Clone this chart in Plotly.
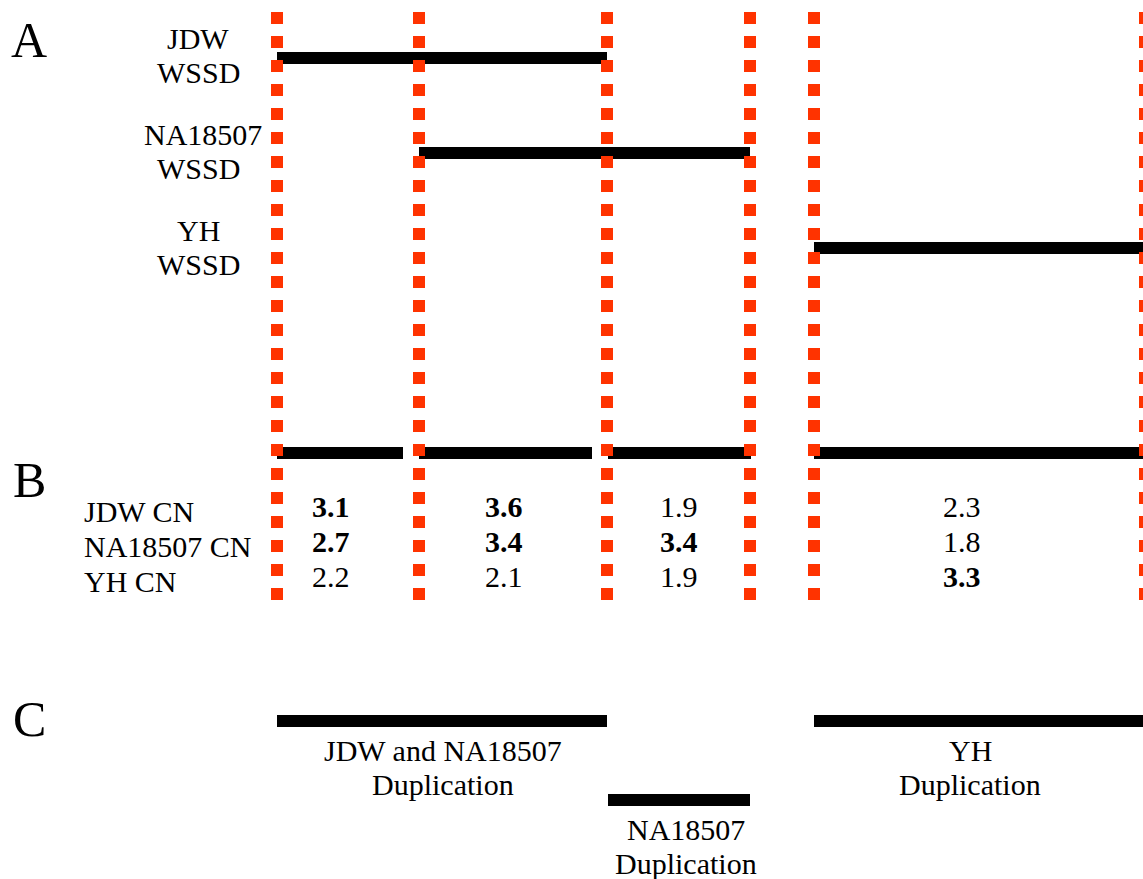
import plotly.graph_objects as go

# ---------------- data ----------------
# breakpoint coordinates (diagram units along the region)
breakpoints = [277, 419, 607, 750, 814, 1145]

# Panel A: WSSD calls
wssd_samples = ["JDW", "NA18507", "YH"]
wssd_start = [277, 419, 814]
wssd_end = [607, 750, 1143]

# Panel B: segments and copy numbers
seg_start = [277, 419, 608, 814]
seg_end = [403, 592, 751, 1143]
cn_labels = ["JDW CN", "NA18507 CN", "YH CN"]
cn_jdw = [3.1, 3.6, 1.9, 2.3]
cn_na18507 = [2.7, 3.4, 3.4, 1.8]
cn_yh = [2.2, 2.1, 1.9, 3.3]
seg_label_x = [331, 504, 679, 962]

# Panel C: duplication calls
dup_names = ["JDW and NA18507", "NA18507", "YH"]
dup_start = [277, 608, 814]
dup_end = [607, 750, 1143]
dup_level = [0, 1, 0]

# ---------------- layout constants ----------------
W, H = 1143, 879
FONT = "Liberation Serif, Times New Roman, serif"
RED = "#FF3300"
BAR_W = 12
wssd_y = [58, 153, 248]
seg_y = 453
cn_row_y = [506, 541, 576]
dup_y = [721, 800]

fig = go.Figure()

def bar(x0, x1, y):
    fig.add_trace(go.Scatter(x=[x0, x1], y=[y, y], mode="lines",
                             line=dict(color="black", width=BAR_W),
                             hoverinfo="skip", showlegend=False))

for s, e, y in zip(wssd_start, wssd_end, wssd_y):
    bar(s, e, y)
for s, e in zip(seg_start, seg_end):
    bar(s, e, seg_y)
for s, e, lv in zip(dup_start, dup_end, dup_level):
    bar(s, e, dup_y[lv])

# red dotted breakpoint lines (drawn on top)
for b in breakpoints:
    fig.add_trace(go.Scatter(x=[b, b], y=[12, 600], mode="lines",
                             line=dict(color=RED, width=12, dash="12px,12px"),
                             hoverinfo="skip", showlegend=False))

ann = []
def txt(x, y, t, size=30, bold=False, xanchor="center"):
    if bold:
        t = "<b>" + t + "</b>"
    ann.append(dict(x=x, y=y, xref="x", yref="y", text=t, showarrow=False,
                    xanchor=xanchor, yanchor="middle",
                    font=dict(family=FONT, size=size, color="black")))

# panel letters
txt(29, 40, "A", size=50)
txt(29, 480, "B", size=50)
txt(29, 719, "C", size=50)

# panel A labels
label_x = [198, 203, 198]
label_y1 = [38, 134, 230]
for name, lx, ly in zip(wssd_samples, label_x, label_y1):
    txt(lx, ly, name)
    txt(198, ly + 34, "WSSD")

# panel B labels and copy numbers
for lab, y in zip(cn_labels, cn_row_y):
    txt(82, y + 5, lab, xanchor="left")
for row, y in zip([cn_jdw, cn_na18507, cn_yh], cn_row_y):
    for v, x in zip(row, seg_label_x):
        txt(x, y, f"{v:.1f}", bold=(v > 2.5))

# panel C labels
dup_label_x = [443, 686, 970]
for name, s, lv, lx in zip(dup_names, dup_start, dup_level, dup_label_x):
    y0 = dup_y[lv] + 29
    txt(lx, y0, name)
    txt(lx, y0 + 34, "Duplication")

fig.update_layout(
    width=W, height=H,
    margin=dict(l=0, r=0, t=0, b=0),
    paper_bgcolor="white", plot_bgcolor="white",
    xaxis=dict(range=[0, W], visible=False, fixedrange=True),
    yaxis=dict(range=[H, 0], visible=False, fixedrange=True),
    annotations=ann,
    showlegend=False,
)

fig.write_html("out.html", post_script="document.body.style.margin='0';",
               config={"displayModeBar": False})
